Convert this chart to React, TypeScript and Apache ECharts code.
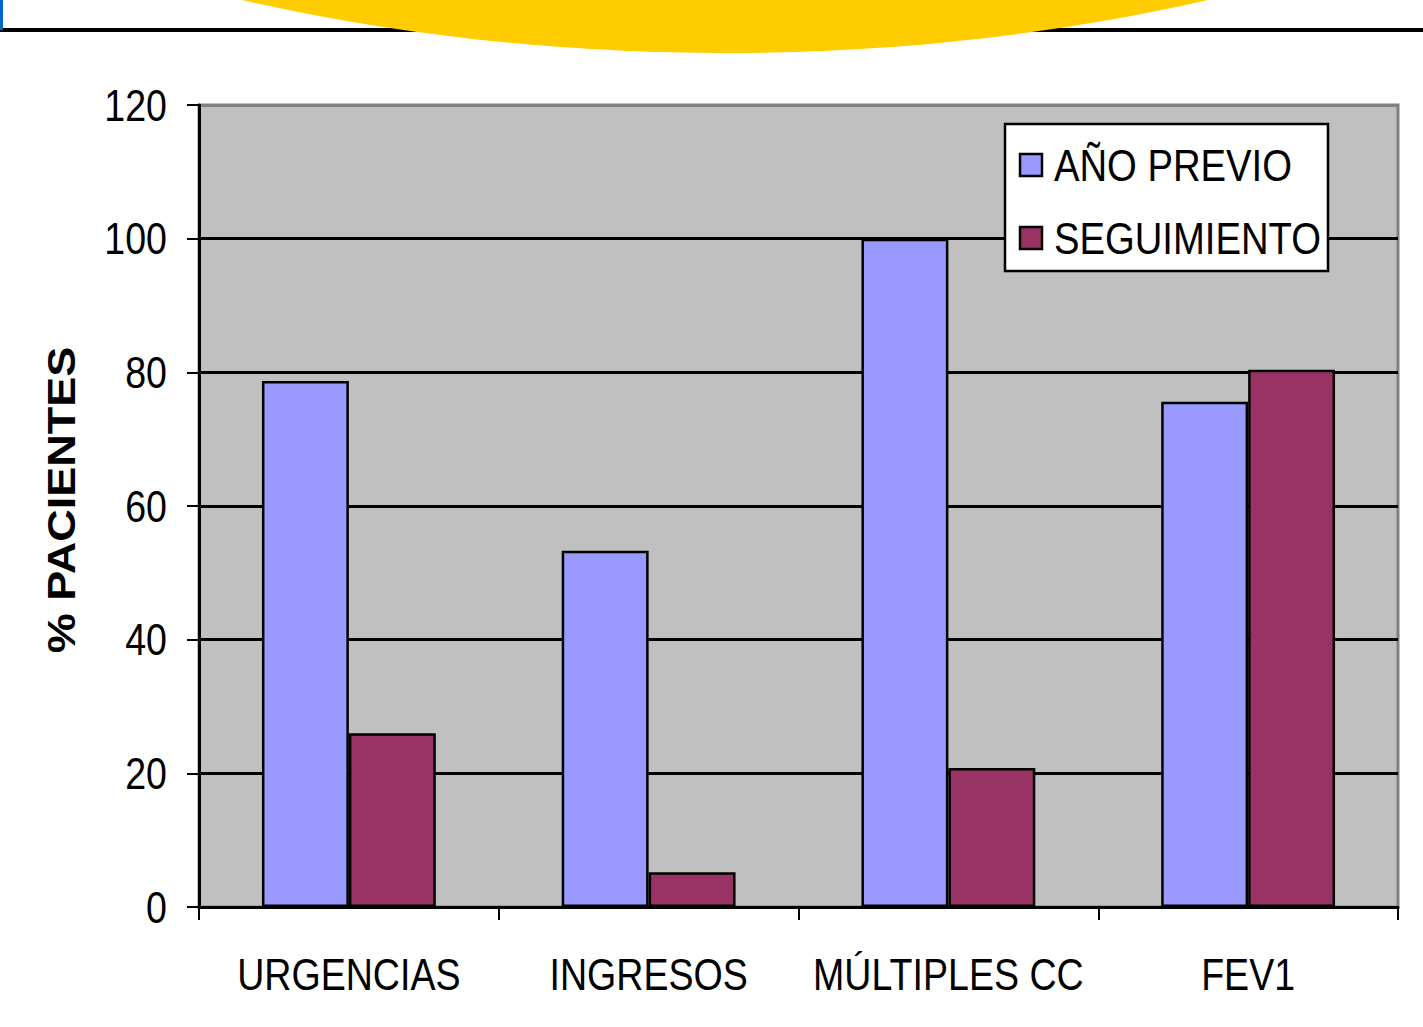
import React, { useEffect, useRef } from "react";
import * as echarts from "echarts";

const categories = ["URGENCIAS", "INGRESOS", "MÚLTIPLES CC", "FEV1"];
const previo = [78.7, 53.3, 100, 75.6];
const seguimiento = [26, 5.2, 20.8, 80.4];
const seriesNames = ["AÑO PREVIO", "SEGUIMIENTO"];
const seriesColors = ["#9999FF", "#993366"];
const yTickValues = [0, 20, 40, 60, 80, 100, 120];
const yTitle = "% PACIENTES";

const FONT = "'Liberation Sans', Arial, sans-serif";
const SQUEEZE = 0.835;
const LEGEND_SQUEEZE = 0.85;
const FS = 45;

const GRID = { left: 199, top: 105, width: 1199, height: 802 };

export default function App() {
  const ref = useRef<HTMLDivElement>(null);
  useEffect(() => {
    if (!ref.current) return;
    const chart = echarts.init(ref.current, null, { renderer: "svg" });
    chart.setOption({
      animation: false,
      backgroundColor: "#ffffff",
      grid: {
        ...GRID,
        show: true,
        backgroundColor: "#C0C0C0",
        borderColor: "#808080",
        borderWidth: 3,
      },
      xAxis: {
        type: "category",
        data: categories,
        boundaryGap: true,
        axisLine: { show: true, lineStyle: { color: "#000", width: 3 } },
        axisTick: { show: true, interval: 0, length: 13, lineStyle: { color: "#000", width: 2 } },
        axisLabel: { show: false },
        splitLine: { show: false },
      },
      yAxis: {
        type: "value",
        min: yTickValues[0],
        max: yTickValues[yTickValues.length - 1],
        interval: yTickValues[1] - yTickValues[0],
        axisLine: { show: true, lineStyle: { color: "#000", width: 3 } },
        axisTick: { show: true, length: 12, lineStyle: { color: "#000", width: 2 } },
        axisLabel: { show: false },
        splitLine: {
          show: true,
          lineStyle: {
            color: ["#000", "#000", "#000", "#000", "#000", "#000", "#808080"],
            width: 3,
          },
        },
      },
      series: [
        {
          name: seriesNames[0],
          type: "bar",
          data: previo,
          barGap: "0%",
          barCategoryGap: "42%",
          itemStyle: { color: seriesColors[0], borderColor: "#000", borderWidth: 2.5 },
        },
        {
          name: seriesNames[1],
          type: "bar",
          data: seguimiento,
          barGap: "0%",
          barCategoryGap: "42%",
          itemStyle: { color: seriesColors[1], borderColor: "#000", borderWidth: 2.5 },
        },
      ],
    });

    const baseY = chart.convertToPixel({ yAxisIndex: 0 }, 0) as number;
    const texts: any[] = [];
    categories.forEach((c) => {
      const x = chart.convertToPixel({ xAxisIndex: 0 }, c) as number;
      texts.push({
        type: "text",
        x,
        y: baseY + 67,
        scaleX: SQUEEZE,
        style: { text: c, fontFamily: FONT, fontSize: FS, fill: "#000", align: "center", verticalAlign: "middle" },
        z: 5,
      });
    });
    yTickValues.forEach((v) => {
      const y = chart.convertToPixel({ yAxisIndex: 0 }, v) as number;
      texts.push({
        type: "text",
        x: GRID.left - 32,
        y,
        scaleX: SQUEEZE,
        style: { text: String(v), fontFamily: FONT, fontSize: FS, fill: "#000", align: "right", verticalAlign: "middle" },
        z: 5,
      });
    });

    // legend box
    const LG = { x: 1005, y: 124, w: 323, h: 147 };
    const legend: any[] = [
      {
        type: "rect",
        shape: { x: LG.x, y: LG.y, width: LG.w, height: LG.h },
        style: { fill: "#fff", stroke: "#000", lineWidth: 2.5 },
        z: 10,
      },
    ];
    seriesNames.forEach((n, i) => {
      const cy = LG.y + 41 + i * 73;
      legend.push({
        type: "rect",
        shape: { x: LG.x + 15, y: cy - 11, width: 22, height: 22 },
        style: { fill: seriesColors[i], stroke: "#000", lineWidth: 2.5 },
        z: 11,
      });
      legend.push({
        type: "text",
        x: LG.x + 49,
        y: cy,
        scaleX: LEGEND_SQUEEZE,
        style: { text: n, fontFamily: FONT, fontSize: FS, fill: "#000", align: "left", verticalAlign: "middle" },
        z: 11,
      });
    });

    chart.setOption({
      graphic: [
        { type: "rect", shape: { x: 0, y: 28, width: 1423, height: 4 }, style: { fill: "#000" }, z: 1 },
        { type: "rect", shape: { x: 0, y: 0, width: 3, height: 30 }, style: { fill: "#0066CC" }, z: 1 },
        {
          type: "ellipse",
          shape: { cx: 725, cy: -947, rx: 1500, ry: 1000 },
          style: { fill: "#FFCC00" },
          z: 2,
        },
        {
          type: "text",
          x: 62,
          y: 500,
          rotation: Math.PI / 2,
          scaleY: 0.86,
          style: {
            text: yTitle,
            fontFamily: FONT,
            fontWeight: "bold",
            fontSize: 45,
            fill: "#000",
            align: "center",
            verticalAlign: "middle",
          },
          z: 3,
        },
        ...texts,
        ...legend,
      ],
    });
    return () => chart.dispose();
  }, []);
  return (
    <div
      ref={ref}
      style={{ position: "fixed", left: 0, top: 0, width: 1423, height: 1027 }}
    />
  );
}
